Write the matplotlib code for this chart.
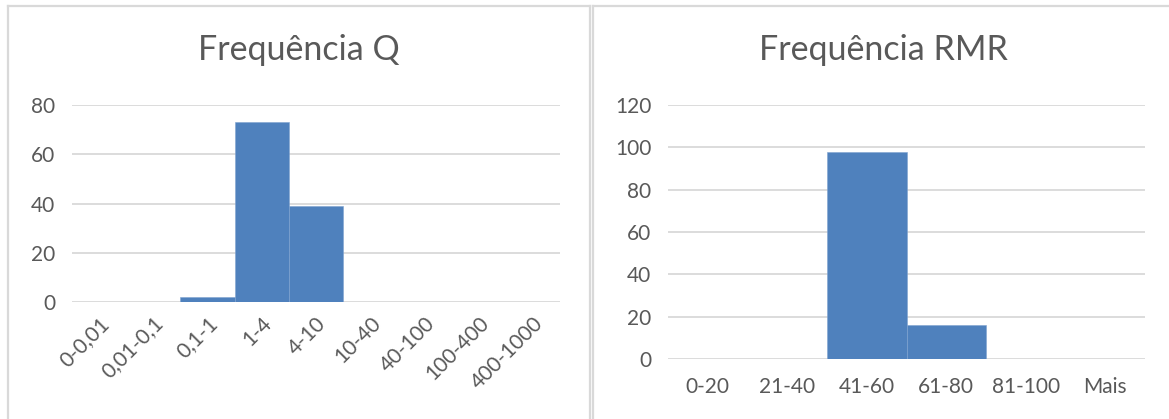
import matplotlib
matplotlib.use("Agg")
import matplotlib.pyplot as plt
from matplotlib.lines import Line2D

q_labels = ["0-0,01", "0,01-0,1", "0,1-1", "1-4", "4-10", "10-40", "40-100", "100-400", "400-1000"]
q_values = [0, 0, 2, 73, 39, 0, 0, 0, 0]
q_yticks = [0, 20, 40, 60, 80]

rmr_labels = ["0-20", "21-40", "41-60", "61-80", "81-100", "Mais"]
rmr_values = [0, 0, 98, 16, 0, 0]
rmr_yticks = [0, 20, 40, 60, 80, 100, 120]

plt.rcParams['font.family'] = ['Lato', 'DejaVu Sans']
TXT = '#595959'
GRID = '#d9d9d9'
BAR = '#4f81bd'
W, H = 1169, 419

fig = plt.figure(figsize=(W / 100, H / 100), dpi=100)

def ax_rect(x0, x1, ytop, ybot):
    return [x0 / W, 1 - ybot / H, (x1 - x0) / W, (ybot - ytop) / H]

def style(ax, labels, values, yticks):
    x = list(range(len(labels)))
    ax.bar(x, values, width=1.0, color=BAR, edgecolor='#7fa3d0', linewidth=0.4, zorder=3)
    ax.set_xlim(-0.5, len(labels) - 0.5)
    ax.set_ylim(0, yticks[-1])
    ax.set_yticks(yticks)
    ax.set_xticks(x)
    ax.set_xticklabels(labels)
    for s in ax.spines.values():
        s.set_visible(False)
    for yv in yticks:
        ax.axhline(yv, color=GRID, linewidth=1.3, zorder=1)
    ax.tick_params(length=0, colors=TXT, labelsize=15)
    ax.tick_params(axis='y', pad=12)

ax1 = fig.add_axes(ax_rect(72, 560, 105, 302))
style(ax1, q_labels, q_values, q_yticks)
ax1.tick_params(axis='x', pad=8)
for lbl in ax1.get_xticklabels():
    lbl.set_rotation(45)
    lbl.set_ha('right')
    lbl.set_va('top')
    lbl.set_rotation_mode('anchor')

ax2 = fig.add_axes(ax_rect(668, 1145, 105, 359))
style(ax2, rmr_labels, rmr_values, rmr_yticks)
ax2.tick_params(axis='x', pad=13)

fig.text(299 / W, 1 - 50 / H, "Frequência Q", ha='center', va='center', fontsize=24.5, color=TXT)
fig.text(883 / W, 1 - 50 / H, "Frequência RMR", ha='center', va='center', fontsize=24.5, color=TXT)

# panel borders
def fl(xs, ys):
    fig.add_artist(Line2D([v / W for v in xs], [1 - v / H for v in ys], color=GRID, linewidth=1.6))

fl([8, 8], [6, 425])
fl([8, 590], [6, 6])
fl([590, 590], [6, 425])
fl([593, 593], [6, 425])
fl([593, 1175], [6, 6])

fig.savefig("out.png", dpi=100)
